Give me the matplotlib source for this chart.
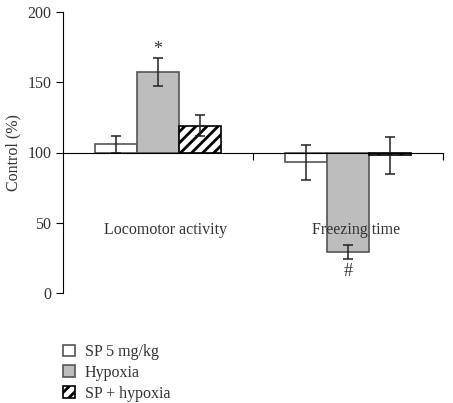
import numpy as np
import matplotlib.pyplot as plt

# values (percent of control)
categories = ["Locomotor activity", "Freezing time"]
series = ["SP 5 mg/kg", "Hypoxia", "SP + hypoxia"]
values = [[106, 93], [157, 29], [119, 98]]
errors = [[6, 12.5], [10, 5], [7.5, 13]]
marks = {(1, 0): ("*", 173), (1, 1): ("#", 15)}

plt.rcParams['font.family'] = ['Liberation Serif', 'DejaVu Serif']
plt.rcParams['hatch.linewidth'] = 2.0

fig = plt.figure(figsize=(4.53, 4.03), dpi=100)
ax = fig.add_axes([63/453, 1 - 293/403, 380/453, 281/403])

centers = np.arange(len(categories)) + 0.5
width = 0.22
fills = ['white', '#bdbdbd', 'white']
hatches = [None, None, '///']
edges = ['#555555', '#555555', 'black']
fs = 11.5

for i, name in enumerate(series):
    x = centers + (i - 1) * width
    heights = np.array(values[i]) - 100
    ax.bar(x, heights, width, bottom=100, color=fills[i], edgecolor=edges[i],
           hatch=hatches[i], linewidth=1.2, label=name, zorder=2)
    ax.errorbar(x, values[i], yerr=errors[i], fmt='none', ecolor='#222222',
                elinewidth=1.1, capsize=3.5, capthick=1.1, zorder=3)

for (i, j), (sym, y) in marks.items():
    ax.text(centers[j] + (i - 1) * width, y, sym, ha='center', va='center',
            fontsize=13, color='#333333')

for j, cat in enumerate(categories):
    ax.text(centers[j] + 0.04, 45, cat, ha='center', va='center',
            fontsize=fs, color='#333333', zorder=4)

ax.set_ylim(0, 200)
ax.set_yticks([0, 50, 100, 150, 200])
ax.set_xlim(0, 2)
ax.set_xticks([1, 2])
ax.set_xticklabels([])
ax.spines['top'].set_visible(False)
ax.spines['right'].set_visible(False)
ax.spines['bottom'].set_position(('data', 100))
ax.spines['bottom'].set_zorder(4)
ax.tick_params(axis='y', labelsize=fs, labelcolor='#333333', length=5)
ax.tick_params(axis='x', direction='out', length=5)
ax.set_ylabel("Control (%)", fontsize=fs, color='#333333', labelpad=4)

fig.legend(loc='upper left', bbox_to_anchor=(63/453, 1 - 344/403), frameon=False,
           fontsize=fs, handlelength=0.75, handleheight=0.75, handletextpad=0.6,
           labelspacing=0.3, borderpad=0, borderaxespad=0, labelcolor='#333333')

fig.savefig("out.png", dpi=100)
